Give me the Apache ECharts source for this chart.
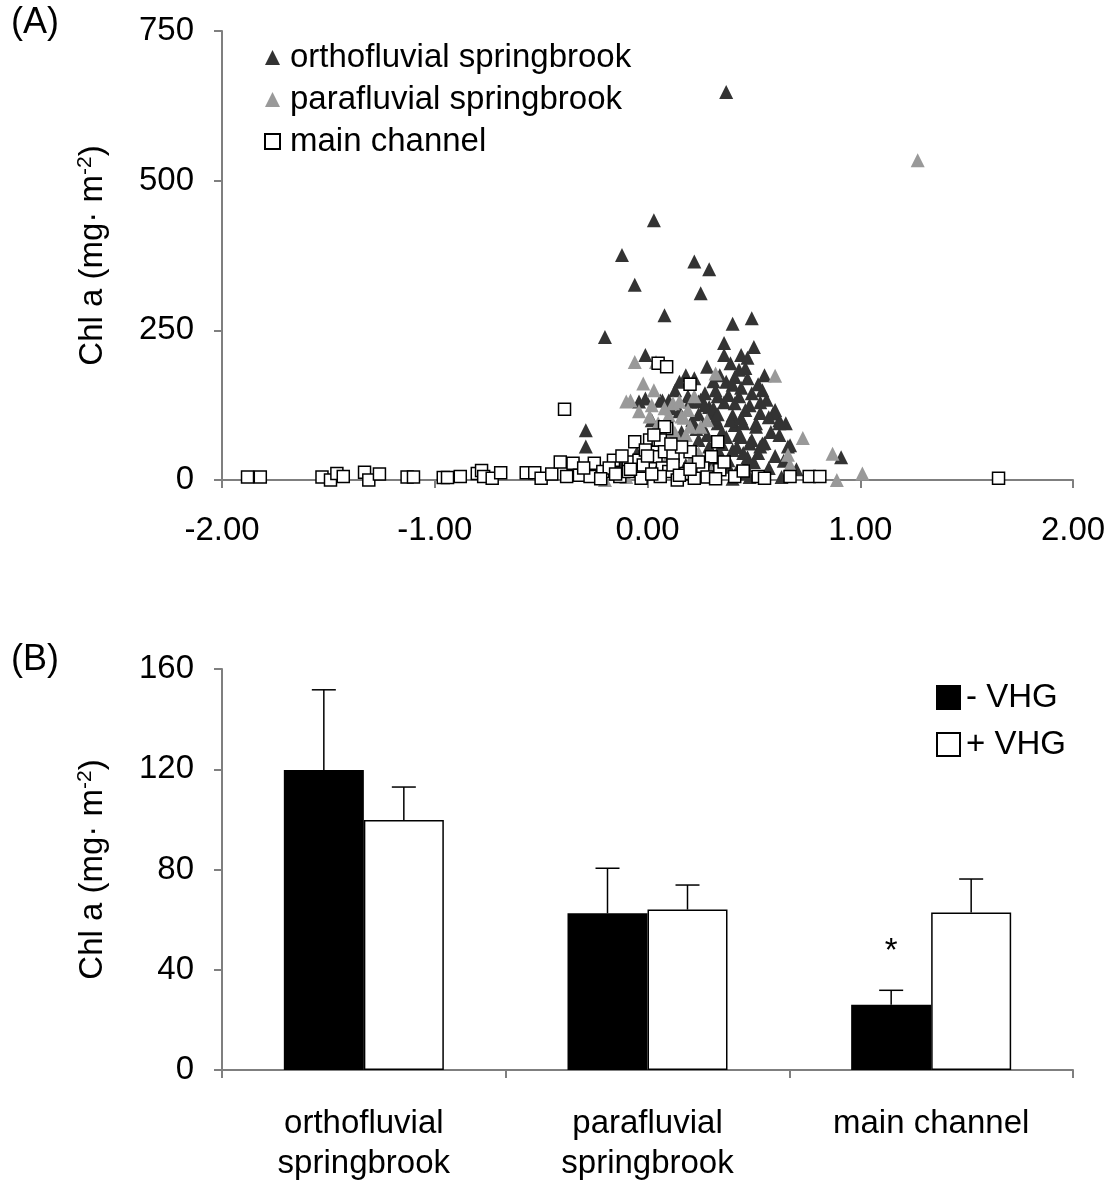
<!DOCTYPE html>
<html>
<head>
<meta charset="utf-8">
<script src="https://cdn.jsdelivr.net/npm/echarts@6/dist/echarts.min.js"></script>
<style>
  html, body { margin: 0; padding: 0; background: #fff; }
  #chart { width: 1114px; height: 1184px; }
</style>
</head>
<body>
<div id="chart"></div>
<script>
// ---------- Panel A: Chl a against VHG, one series per habitat ----------
const orthofluvial = [
  [0.37,648],[0.03,434],[-0.12,376],[-0.06,326],[0.22,365],[0.29,352],[0.25,312],[0.08,275],[0.40,261],[0.49,270],
  [-0.20,239],[-0.29,83],[-0.29,56],[0.36,229],[0.50,222],[0.36,209],[0.44,209],[0.47,204],[0.28,189],[0.43,184],
  [0.46,187],[0.37,164],[0.40,159],[0.44,154],[0.49,145],[0.54,150],[0.56,134],[0.25,134],[0.29,122],[0.41,128],
  [0.46,117],[0.53,112],[0.60,117],[0.62,100],[0.65,95],[0.40,108],[0.30,112],[0.33,95],[0.41,92],[0.51,95],
  [0.44,72],[0.49,67],[0.55,62],[0.67,58],[0.40,50],[0.38,33],[0.47,38],[0.57,20],[0.91,38],[0.48,5],
  [0.15,164],[0.22,170],[0.18,175],[0.06,133],[0.10,133],[0.20,131],[0.24,131],[0.27,125],[0.31,120],[-0.01,209],
  [-0.04,131],[-0.01,136],[0.07,133],[0.26,89],[0.32,103],[0.39,100],[0.44,103],[0.51,89],[0.48,61],[0.53,56],
  [0.29,56],[0.24,67],[0.37,72],[0.43,75],[0.30,33],[0.38,22],[0.44,11],[0.59,111],[0.62,95],[0.54,61],
  [0.66,56],[0.01,67],[0.10,95],[0.16,80],[0.22,50],[0.28,30],[0.34,45],[0.12,40],[0.18,25],[0.05,20],
  [0.36,130],[0.32,150],[0.50,30],[0.42,15],[0.26,8],[0.33,110],[0.21,100],[0.15,115],[0.35,80],[0.45,45],
  [0.60,40],[0.53,130],[0.39,195],[0.31,165],[0.27,145],[0.47,170],[0.43,140],[0.13,150],[0.02,100],[-0.05,45],
  [-0.12,30],[0.08,60],[0.62,75],[0.70,18],[0.63,5],[0.40,2],[0.20,10],
  [0.34,175],[0.41,172],[0.52,160],[0.57,105],[0.48,125],[0.38,142],[0.35,60],[0.42,55],[0.58,80],[0.52,45],
  [0.64,32],[0.46,25],[0.24,110],[0.19,140],[0.11,120],[0.28,75],[0.33,140],[0.45,95],[0.55,175],[0.23,85]
];
const parafluvial = [
  [1.27,534],[-0.06,197],[0.04,197],[0.32,178],[0.60,174],[-0.02,161],[-0.10,131],[-0.08,133],[0.02,125],[0.12,128],
  [0.15,131],[0.19,117],[0.01,106],[0.05,95],[0.10,108],[0.16,106],[0.17,104],[0.12,83],[0.20,89],[0.25,89],
  [0.13,78],[0.14,64],[0.73,70],[0.66,42],[0.67,25],[0.87,44],[0.89,0],[1.01,11],[-0.20,0],[0.08,120],
  [0.22,140],[0.28,100],[0.03,150],[-0.04,115],[0.18,75],[0.07,55],[0.24,45],[0.20,30],[0.10,40],[0.30,15],
  [0.05,10],[-0.10,5]
];
const mainChannel = [
  [-1.88,5],[-1.82,5],[-1.53,5],[-1.49,0],[-1.46,11],[-1.43,6],[-1.33,13],[-1.31,0],[-1.26,10],[-1.13,5],
  [-1.10,5],[-0.96,4],[-0.94,4],[-0.88,6],[-0.80,11],[-0.78,16],[-0.77,6],[-0.73,3],[-0.69,12],[-0.57,12],
  [-0.53,12],[-0.50,3],[-0.45,10],[-0.41,30],[-0.38,6],[-0.39,118],[-0.35,28],[-0.32,8],[-0.27,6],[-0.25,28],
  [-0.21,14],[-0.16,33],[-0.13,6],[-0.09,30],[-0.09,14],[-0.04,33],[-0.06,64],[0.01,67],[0.05,67],[-0.03,3],
  [-0.01,50],[0.04,39],[0.07,20],[0.05,195],[0.09,189],[0.20,160],[0.09,86],[0.08,89],[0.06,67],[0.08,47],
  [0.12,42],[0.20,47],[0.33,64],[0.30,39],[0.26,20],[0.34,17],[0.18,11],[0.10,14],[0.41,6],[0.52,6],
  [0.22,3],[0.14,0],[0.06,6],[0.55,3],[0.67,6],[0.76,6],[0.81,6],[1.65,3],[-0.30,20],[-0.18,20],
  [-0.12,40],[-0.02,25],[0.02,10],[0.12,25],[0.16,55],[0.24,30],[0.28,5],[0.36,30],[0.03,75],[-0.08,18],
  [-0.22,2],[0.00,40],[0.15,8],[0.32,2],[0.45,15],[0.20,18],[-0.15,10],[0.11,60]
];
const scatterNames = ['orthofluvial springbrook', 'parafluvial springbrook', 'main channel'];
const vhgAxis = { min: -2, max: 2, step: 1 };
const chlAxisA = { min: 0, max: 750, step: 250 };

// ---------- Panel B: mean Chl a (+ SE) with and without VHG ----------
const habitats = ['orthofluvial\nspringbrook', 'parafluvial\nspringbrook', 'main channel'];
const barNames = ['- VHG', '+ VHG'];
const minusVHG = [119.7, 62.5, 26.0];
const minusVHGErr = [32.0, 18.0, 5.8];
const plusVHG = [99.8, 64.0, 62.8];
const plusVHGErr = [13.1, 9.8, 13.4];
const minusVHGMark = ['', '', '*'];
const chlAxisB = { min: 0, max: 160, step: 40 };

const FONT = '"Liberation Sans", Arial, sans-serif';
const AXIS_COLOR = '#7f7f7f';
const BAR_W = 80;

const chart = echarts.init(document.getElementById('chart'), null, { renderer: 'canvas' });

const yName = {
  name: 'Chl a (mg· m{s|-2})',
  nameLocation: 'middle',
  nameRotate: 90,
  nameGap: 112,
  nameTextStyle: {
    fontFamily: FONT, fontSize: 33, color: '#000',
    rich: { s: { fontFamily: FONT, fontSize: 21, color: '#000', verticalAlign: 'top', padding: [0, 0, 14, 0] } }
  }
};

function axisStyle() {
  return {
    axisLine: { show: true, onZero: false, lineStyle: { color: AXIS_COLOR, width: 2 } },
    axisTick: { show: true, inside: false, length: 8, lineStyle: { color: AXIS_COLOR, width: 2 } },
    splitLine: { show: false },
    axisLabel: { fontFamily: FONT, fontSize: 33, color: '#000' }
  };
}

// Error bars (upward only) plus significance mark, drawn over the bars
const errData = [];
habitats.forEach((h, i) => {
  errData.push([i, minusVHG[i], minusVHGErr[i], -1]);
  errData.push([i, plusVHG[i], plusVHGErr[i], 1]);
});
const marks = [];
habitats.forEach((h, i) => { marks.push(minusVHGMark[i]); marks.push(''); });

function renderErr(params, api) {
  const cat = api.value(0), v = api.value(1), e = api.value(2), side = api.value(3);
  const base = api.coord([cat, v]);
  const top = api.coord([cat, v + e]);
  const x = base[0] + side * BAR_W / 2;
  const st = { stroke: '#000', lineWidth: 1.5 };
  const children = [
    { type: 'line', shape: { x1: x, y1: base[1], x2: x, y2: top[1] }, style: st },
    { type: 'line', shape: { x1: x - 12, y1: top[1], x2: x + 12, y2: top[1] }, style: st }
  ];
  const m = marks[params.dataIndex];
  if (m) {
    children.push({
      type: 'text',
      style: { text: m, x: x, y: top[1] - 22, align: 'center', verticalAlign: 'bottom',
               fontFamily: FONT, fontSize: 33, fill: '#000' }
    });
  }
  return { type: 'group', children };
}

const option = {
  backgroundColor: '#fff',
  animation: false,
  textStyle: { fontFamily: FONT },
  graphic: [
    { type: 'text', left: 11, top: 5, style: { text: '(A)', fontFamily: FONT, fontSize: 36, fill: '#000' } },
    { type: 'text', left: 11, top: 642, style: { text: '(B)', fontFamily: FONT, fontSize: 36, fill: '#000' } }
  ],
  legend: [
    {
      data: scatterNames,
      orient: 'vertical',
      left: 259, top: 36,
      itemWidth: 15, itemHeight: 15, itemGap: 9,
      textStyle: { fontFamily: FONT, fontSize: 33, color: '#000', padding: [0, 0, 0, 5] }
    },
    {
      data: barNames,
      orient: 'vertical',
      left: 931, top: 676,
      itemWidth: 23, itemHeight: 23, itemGap: 14,
      icon: 'rect',
      textStyle: { fontFamily: FONT, fontSize: 33, color: '#000', padding: [0, 0, 0, 1] }
    }
  ],
  grid: [
    { left: 222, right: 41, top: 31, height: 449, containLabel: false, outerBoundsMode: 'none' },
    { left: 222, right: 41, top: 669, height: 401, containLabel: false, outerBoundsMode: 'none' }
  ],
  xAxis: [
    Object.assign(axisStyle(), {
      gridIndex: 0, type: 'value',
      min: vhgAxis.min, max: vhgAxis.max, interval: vhgAxis.step,
      axisLabel: { fontFamily: FONT, fontSize: 33, color: '#000', margin: 34, formatter: v => v.toFixed(2) }
    }),
    Object.assign(axisStyle(), {
      gridIndex: 1, type: 'category', data: habitats,
      axisTick: { show: true, inside: false, length: 8, alignWithLabel: false, lineStyle: { color: AXIS_COLOR, width: 2 } },
      axisLabel: { fontFamily: FONT, fontSize: 33, color: '#000', margin: 34, lineHeight: 40, interval: 0 }
    })
  ],
  yAxis: [
    Object.assign(axisStyle(), yName, {
      gridIndex: 0, type: 'value',
      min: chlAxisA.min, max: chlAxisA.max, interval: chlAxisA.step,
      axisLabel: { fontFamily: FONT, fontSize: 33, color: '#000', margin: 28 }
    }),
    Object.assign(axisStyle(), yName, {
      gridIndex: 1, type: 'value',
      min: chlAxisB.min, max: chlAxisB.max, interval: chlAxisB.step,
      axisLabel: { fontFamily: FONT, fontSize: 33, color: '#000', margin: 28 }
    })
  ],
  series: [
    {
      name: scatterNames[0], type: 'scatter', xAxisIndex: 0, yAxisIndex: 0,
      symbol: 'triangle', symbolSize: 14,
      itemStyle: { color: '#333333', opacity: 1 },
      data: orthofluvial
    },
    {
      name: scatterNames[1], type: 'scatter', xAxisIndex: 0, yAxisIndex: 0,
      symbol: 'triangle', symbolSize: 14,
      itemStyle: { color: '#999999', opacity: 1 },
      data: parafluvial
    },
    {
      name: scatterNames[2], type: 'scatter', xAxisIndex: 0, yAxisIndex: 0,
      symbol: 'rect', symbolSize: 12,
      itemStyle: { color: '#ffffff', borderColor: '#000', borderWidth: 1.5, opacity: 1 },
      data: mainChannel
    },
    {
      name: barNames[0], type: 'bar', xAxisIndex: 1, yAxisIndex: 1,
      barWidth: BAR_W, barGap: '0%',
      itemStyle: { color: '#000', borderColor: '#000', borderWidth: 1.5 },
      data: minusVHG
    },
    {
      name: barNames[1], type: 'bar', xAxisIndex: 1, yAxisIndex: 1,
      barWidth: BAR_W, barGap: '0%',
      itemStyle: { color: '#fff', borderColor: '#000', borderWidth: 1.5 },
      data: plusVHG
    },
    {
      type: 'custom', xAxisIndex: 1, yAxisIndex: 1, z: 5,
      renderItem: renderErr,
      encode: { x: 0, y: 1 },
      data: errData
    }
  ]
};

chart.setOption(option);
</script>
</body>
</html>
